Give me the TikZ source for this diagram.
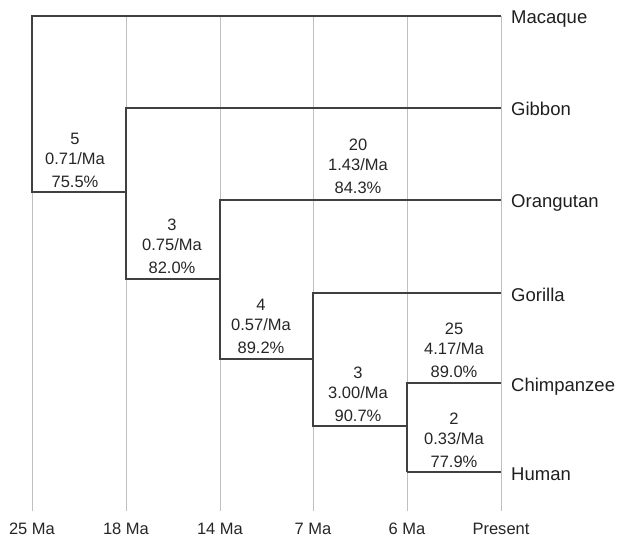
\documentclass[tikz,border=0pt]{standalone}
\usepackage{fontspec}
\setmainfont{Liberation Sans}

\begin{document}
\begin{tikzpicture}[x=1bp, y=-1bp,
    grid/.style={draw=black!25, line width=0.9bp},
    branch/.style={draw=black!75, line width=2.7bp, line join=miter},
    taxon/.style={anchor=west, inner xsep=10bp, inner ysep=0pt, text=black!88,
        text height=17bp, text depth=1bp,
        font=\fontsize{18.5bp}{22bp}\selectfont},
    axis/.style={inner sep=0pt, text=black!85, font=\fontsize{16.5bp}{20bp}\selectfont},
    rate/.style={align=center, inner sep=0pt, text=black!85,
        font=\fontsize{16.5bp}{20bp}\selectfont}]
    \useasboundingbox (0,0) rectangle (629,544);

    % time axis
    \foreach \x/\t in {32/25 Ma, 126/18 Ma, 220/14 Ma, 313/7 Ma, 407/6 Ma, 501/Present} {
        \draw[grid] (\x,16) -- (\x,511);
        \node[axis] at (\x,529) {\t};
    }

    \node[taxon] (macaque) at (501,16) {Macaque};
    \node[taxon] (gibbon) at (501,108) {Gibbon};
    \node[taxon] (orangutan) at (501,200) {Orangutan};
    \node[taxon] (gorilla) at (501,293) {Gorilla};
    \node[taxon] (chimp) at (501,383) {Chimpanzee};
    \node[taxon] (human) at (501,472) {Human};

    \coordinate (n25) at (32,192);
    \coordinate (n18) at (126,279);
    \coordinate (n14) at (220,359);
    \coordinate (n7) at (313,426);
    \coordinate (n6) at (407,472);

    \draw[branch] (macaque.west) -| (n25) -- (n25 -| n18);
    \draw[branch] (gibbon.west) -| (n18) -- (n18 -| n14);
    \draw[branch] (orangutan.west) -| (n14) -- (n14 -| n7);
    \draw[branch] (gorilla.west) -| (n7) -- (n7 -| n6);
    \draw[branch] (chimp.west) -| (n6);
    \draw[branch] (human.west) -- (n6);

    \node[rate] (r25) at (75,160) {5\\0.71/Ma\\[3bp]75.5\%};
    \node[rate] (r18) at (172,246) {3\\0.75/Ma\\[3bp]82.0\%};
    \node[rate] (r14) at (261,326) {4\\0.57/Ma\\[3bp]89.2\%};
    \node[rate] (ror) at (358,166) {20\\1.43/Ma\\[3bp]84.3\%};
    \node[rate] (r7) at (358,394) {3\\3.00/Ma\\[3bp]90.7\%};
    \node[rate] (rch) at (454,350) {25\\4.17/Ma\\[3bp]89.0\%};
    \node[rate] (rhu) at (454,440) {2\\0.33/Ma\\[3bp]77.9\%};
\end{tikzpicture}
\end{document}
